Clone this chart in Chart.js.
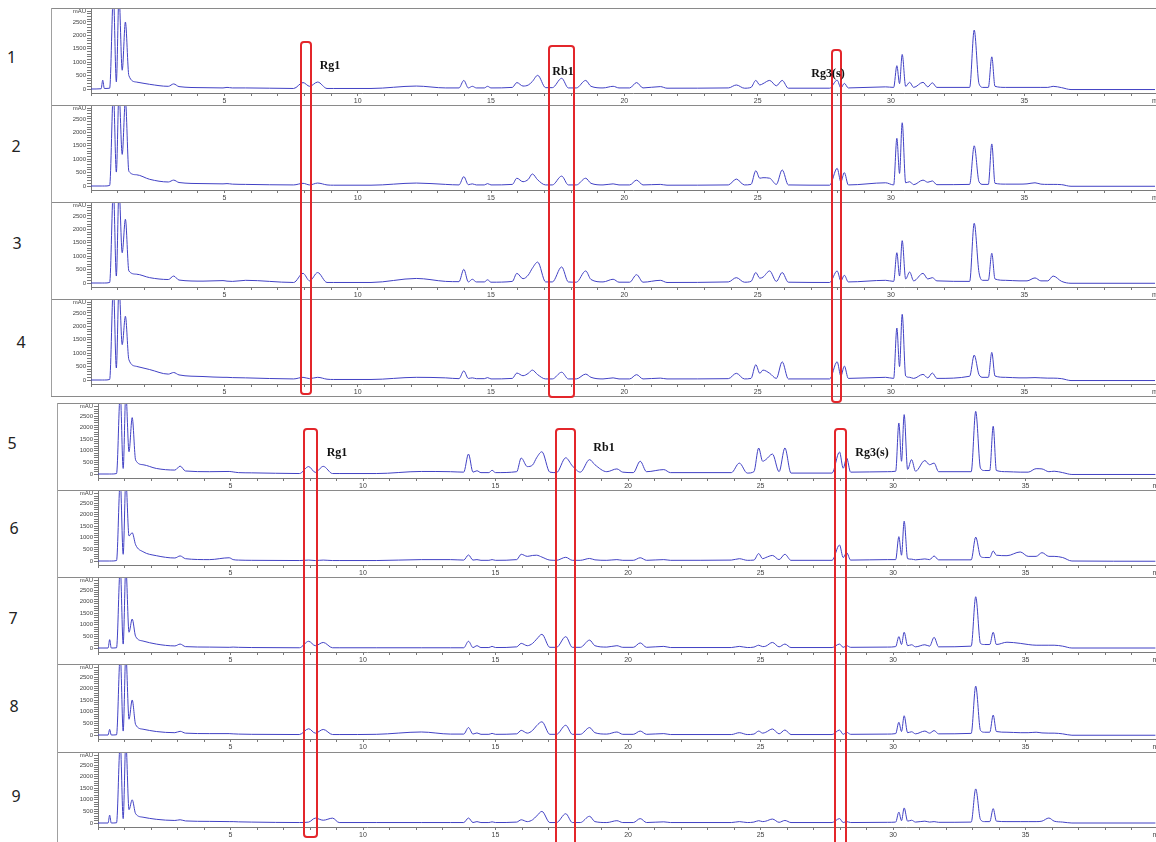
<!DOCTYPE html>
<html>
<head>
<meta charset="utf-8">
<script src="https://cdn.jsdelivr.net/npm/chart.js@4.4.0/dist/chart.umd.min.js"></script>
<style>
  body { margin: 0; background: #fff; width: 1156px; height: 842px; overflow: hidden; position: relative; }
  .wrap { position: absolute; }
  .hline { position: absolute; height: 1px; background: #8a8a8a; }
  .vline { position: absolute; width: 1px; background: #a0a0a0; }
  .num { position: absolute; font: 16px 'Noto Sans', sans-serif; color: #222; transform: translate(-50%, -50%); }
  .box { position: absolute; border: 2px solid #e3262b; border-radius: 4px; box-sizing: border-box; }
  .tag { position: absolute; font: bold 12px 'Liberation Serif', serif; color: #111; transform: translate(-50%, -50%); white-space: nowrap; }
</style>
</head>
<body>
<script>
// retention time (min)
const times = [
  0, 0.38, 0.44, 0.5, 0.7, 0.84, 0.95, 1.05, 1.17, 1.29,
  1.42, 1.7, 2.2, 2.9, 3.1, 3.3, 4.2, 4.95, 5.1, 5.3,
  5.8, 7.6, 7.95, 8.2, 8.5, 8.85, 9.1, 10.5, 12.2, 13.3,
  13.8, 13.98, 14.15, 14.3, 14.45, 14.75, 14.87, 15.0, 15.8, 15.97,
  16.2, 16.4, 16.55, 16.75, 17.05, 17.3, 17.65, 17.9, 18.2, 18.55,
  18.75, 19.2, 19.58, 19.8, 20.2, 20.46, 20.7, 21.35, 21.6, 23.9,
  24.2, 24.5, 24.75, 24.93, 25.08, 25.2, 25.45, 25.7, 25.92, 26.15,
  27.7, 27.98, 28.12, 28.25, 28.4, 29.8, 30.1, 30.22, 30.32, 30.42,
  30.55, 30.7, 30.85, 31.2, 31.38, 31.55, 31.72, 32.95, 33.12, 33.3,
  33.45, 33.65, 33.78, 33.9, 34.3, 34.8, 35.1, 35.4, 35.62, 35.88,
  36.08, 36.4, 36.75, 39.9
];

// absorbance (mAU) per sample, one value per retention time
const sample1 = [
  0, 10, 330, 20, 30, 3500, 270, 3500, 700, 2500,
  500, 260, 175, 100, 190, 90, 50, 40, 60, 40,
  40, 20, 240, 100, 260, 20, 20, 20, 110, 40,
  40, 320, 40, 100, 40, 40, 100, 40, 60, 240,
  110, 150, 280, 510, 50, 50, 400, 40, 40, 320,
  100, 40, 100, 40, 40, 240, 40, 90, 30, 40,
  150, 30, 60, 320, 150, 200, 320, 120, 320, 30,
  30, 330, 40, 210, 40, 80, 60, 870, 200, 1290,
  100, 250, 60, 250, 80, 230, 60, 60, 2200, 200,
  60, 60, 1200, 100, 60, 60, 60, 60, 60, 60,
  100, 50, -20, -20
];
const sample2 = [
  0, 0, 0, 0, 20, 3500, 520, 3500, 1180, 3200,
  550, 420, 250, 150, 220, 130, 90, 80, 90, 70,
  60, 40, 100, 40, 110, 40, 30, 30, 110, 60,
  40, 350, 50, 80, 40, 40, 90, 40, 60, 290,
  160, 250, 450, 230, 40, 40, 370, 40, 40, 290,
  100, 40, 80, 40, 40, 220, 40, 60, 30, 40,
  260, 40, 60, 570, 290, 310, 290, 60, 600, 40,
  30, 660, 160, 500, 40, 120, 40, 1780, 470, 2360,
  120, 160, 50, 220, 140, 190, 50, 60, 1500, 160,
  60, 60, 1570, 100, 70, 70, 80, 120, 70, 60,
  60, 50, -10, -10
];
const sample3 = [
  0, 0, 0, 0, 20, 3500, 260, 3500, 1130, 2380,
  450, 330, 200, 130, 260, 110, 70, 90, 70, 60,
  100, 20, 360, 80, 390, 20, 20, 20, 170, 60,
  50, 510, 40, 140, 40, 40, 120, 30, 60, 360,
  160, 300, 550, 780, 40, 40, 600, 40, 30, 450,
  130, 40, 140, 30, 30, 310, 30, 100, 20, 40,
  200, 30, 60, 390, 180, 220, 450, 60, 390, 30,
  20, 450, 80, 290, 40, 100, 60, 1130, 260, 1580,
  150, 410, 80, 360, 150, 200, 80, 60, 2230, 390,
  100, 100, 1110, 150, 100, 80, 80, 190, 80, 80,
  260, 60, -10, -10
];
const sample4 = [
  0, 0, 0, 0, 20, 3500, 450, 3500, 1320, 2380,
  760, 510, 390, 220, 280, 190, 130, 100, 100, 90,
  80, 40, 100, 50, 100, 30, 20, 20, 100, 80,
  50, 340, 60, 80, 50, 50, 90, 40, 60, 260,
  160, 250, 370, 200, 40, 40, 290, 40, 40, 220,
  100, 40, 80, 40, 40, 200, 40, 70, 40, 50,
  250, 40, 60, 570, 250, 370, 250, 60, 680, 40,
  40, 680, 150, 520, 60, 100, 60, 1940, 500, 2450,
  150, 100, 60, 210, 80, 260, 60, 140, 930, 200,
  100, 100, 1030, 150, 100, 80, 80, 90, 80, 70,
  70, 50, -20, -20
];
const sample5 = [
  0, 0, 0, 0, 20, 3500, 240, 3500, 960, 2430,
  600, 400, 240, 170, 340, 130, 100, 110, 90, 60,
  50, 20, 320, 70, 330, 20, 20, 20, 110, 100,
  80, 860, 80, 140, 60, 60, 160, 60, 100, 690,
  320, 390, 700, 960, 80, 60, 700, 350, 80, 620,
  400, 100, 220, 80, 60, 550, 100, 190, 60, 60,
  470, 40, 100, 1120, 550, 620, 860, 100, 1120, 40,
  40, 950, 250, 690, 80, 100, 120, 2200, 550, 2560,
  200, 620, 120, 580, 400, 470, 100, 100, 2700, 250,
  150, 150, 2060, 150, 100, 80, 80, 230, 220, 100,
  120, 60, -20, -20
];
const sample6 = [
  0, 0, 0, 0, 20, 3500, 290, 3500, 1080, 1220,
  700, 400, 230, 130, 220, 100, 60, 140, 60, 40,
  30, 20, 40, 20, 40, 20, 20, 20, 60, 60,
  40, 260, 40, 60, 30, 30, 60, 30, 60, 290,
  200, 240, 250, 170, 40, 30, 160, 30, 30, 110,
  50, 30, 60, 30, 30, 140, 30, 60, 30, 40,
  100, 30, 40, 320, 100, 150, 240, 60, 290, 30,
  30, 690, 150, 360, 40, 60, 60, 1050, 250, 1720,
  100, 80, 50, 90, 60, 215, 50, 50, 1030, 200,
  150, 150, 430, 250, 230, 390, 200, 200, 360, 200,
  200, 150, 0, -10
];
const sample7 = [
  0, 0, 360, 0, 10, 3500, 170, 3500, 680, 1250,
  500, 300, 170, 90, 170, 60, 40, 30, 40, 30,
  20, 10, 290, 100, 240, 10, 10, 10, 10, 10,
  10, 290, 20, 100, 20, 20, 70, 20, 50, 200,
  100, 200, 380, 590, 30, 30, 490, 30, 30, 340,
  100, 40, 100, 30, 30, 220, 30, 70, 20, 20,
  70, 20, 40, 120, 60, 80, 240, 50, 170, 20,
  20, 170, 30, 100, 30, 40, 60, 490, 150, 680,
  100, 140, 50, 140, 80, 460, 50, 80, 2210, 200,
  150, 150, 680, 150, 250, 200, 150, 120, 120, 120,
  120, 80, 0, 0
];
const sample8 = [
  0, 0, 240, 0, 10, 3500, 170, 3500, 680, 1510,
  450, 250, 150, 100, 160, 80, 60, 60, 50, 40,
  30, 20, 270, 80, 240, 20, 20, 30, 130, 40,
  40, 320, 40, 90, 30, 30, 70, 30, 50, 200,
  80, 200, 400, 570, 30, 30, 420, 30, 30, 320,
  100, 40, 130, 30, 30, 170, 30, 60, 20, 20,
  100, 20, 40, 170, 80, 120, 260, 50, 215, 20,
  20, 215, 30, 115, 30, 40, 60, 550, 150, 830,
  100, 140, 50, 170, 80, 190, 50, 70, 2110, 200,
  120, 120, 860, 150, 120, 100, 100, 120, 90, 80,
  80, 50, -10, -10
];
const sample9 = [
  0, 0, 340, 0, 10, 3500, 190, 3500, 575, 1000,
  400, 250, 160, 110, 140, 90, 70, 60, 60, 50,
  40, 20, 40, 210, 120, 210, 20, 20, 20, 20,
  20, 215, 20, 60, 20, 20, 50, 20, 40, 140,
  60, 140, 300, 500, 20, 20, 400, 20, 20, 290,
  60, 20, 100, 20, 20, 190, 20, 50, 20, 20,
  60, 20, 40, 100, 60, 80, 170, 30, 110, 20,
  20, 190, 20, 60, 20, 30, 40, 470, 100, 650,
  80, 120, 40, 80, 40, 60, 30, 40, 1470, 150,
  60, 60, 620, 80, 60, 60, 60, 60, 80, 215,
  80, 40, 0, 0
];

const sampleNames = ['1', '2', '3', '4', '5', '6', '7', '8', '9'];
const samples = [sample1, sample2, sample3, sample4, sample5, sample6, sample7, sample8, sample9];
const mauLabels = [0, 500, 1000, 1500, 2000, 2500];
const minLabels = [5, 10, 15, 20, 25, 30, 35];

// two blocks of stacked chromatograms
const groups = [
  { left: 51, tops: [8, 105, 202, 299], h: 97, yw: 40, ymin: -149, ymax: 2985, xmax: 40.65, bottom: 397 },
  { left: 57, tops: [403, 490, 577, 664, 752], h: 87, yw: 41, ymin: -172, ymax: 3018, xmax: 40.64, bottom: 842 }
];
const numPos = [[11.5, 57], [16, 146], [17, 243], [21, 342], [12, 443], [14, 528], [13, 618], [14, 706], [16, 796]];

function el(cls, css, text) {
  const d = document.createElement('div');
  d.className = cls;
  Object.assign(d.style, css);
  if (text) d.textContent = text;
  document.body.appendChild(d);
  return d;
}

const tickFont = { family: 'Liberation Sans', size: 7 };
const axisGray = '#7a7a7a';

function makeChart(canvas, vals, g) {
  return new Chart(canvas, {
    type: 'line',
    data: {
      datasets: [{
        data: times.map((t, i) => ({ x: t, y: vals[i] })),
        borderColor: '#4141c4',
        borderWidth: 1,
        pointRadius: 0,
        cubicInterpolationMode: 'monotone',
        fill: false
      }]
    },
    options: {
      responsive: false,
      animation: false,
      devicePixelRatio: 1,
      layout: { padding: { top: 1, left: 0, right: 0, bottom: 0 }, autoPadding: false },
      plugins: { legend: { display: false }, tooltip: { enabled: false } },
      scales: {
        x: {
          type: 'linear', min: 0, max: g.xmax,
          afterBuildTicks: s => { s.ticks = Array.from({ length: 41 }, (_, i) => ({ value: i })); },
          afterFit: s => { s.height = 12; s.paddingLeft = 0; s.paddingRight = 0; },
          ticks: {
            autoSkip: false, maxRotation: 0, minRotation: 0, padding: 1,
            font: tickFont, color: '#444',
            callback: v => v === 40 ? 'min' : (minLabels.includes(v) ? String(v) : '')
          },
          grid: { drawOnChartArea: false, tickLength: 3, color: axisGray },
          border: { color: axisGray }
        },
        y: {
          min: g.ymin, max: g.ymax,
          afterBuildTicks: s => { s.ticks = Array.from({ length: 30 }, (_, i) => ({ value: i * 100 })); },
          afterFit: s => { s.width = g.yw; s.paddingTop = 0; s.paddingBottom = 0; },
          ticks: {
            autoSkip: false, padding: 1,
            font: { family: 'Liberation Sans', size: 6 }, color: '#444',
            callback: v => v === 2900 ? 'mAU' : (mauLabels.includes(v) ? String(v) : '')
          },
          grid: { drawOnChartArea: false, tickLength: 4, color: axisGray },
          border: { color: axisGray }
        }
      }
    }
  });
}

const charts = [];
let k = 0;
groups.forEach(g => {
  const w = 1175 - g.left;
  g.tops.forEach(top => {
    el('hline', { left: g.left + 'px', top: top + 'px', width: (1156 - g.left) + 'px' });
    const wrap = el('wrap', { left: g.left + 'px', top: top + 'px', width: w + 'px', height: g.h + 'px' });
    const c = document.createElement('canvas');
    c.width = w; c.height = g.h;
    wrap.appendChild(c);
    const ch = makeChart(c, samples[k], g);
    ch.pageLeft = g.left;
    charts.push(ch);
    el('num', { left: numPos[k][0] + 'px', top: numPos[k][1] + 'px' }, sampleNames[k]);
    k++;
  });
  el('vline', { left: g.left + 'px', top: g.tops[0] + 'px', height: (g.bottom - g.tops[0]) + 'px' });
});
el('hline', { left: '51px', top: '396px', width: '1105px' });

// highlighted compound windows (retention-time ranges)
const windows = [
  { chart: 0, t0: 7.84, t1: 8.30, y0: 41, y1: 395 },
  { chart: 0, t0: 17.15, t1: 18.16, y0: 45, y1: 398 },
  { chart: 0, t0: 27.76, t1: 28.17, y0: 49, y1: 403 },
  { chart: 4, t0: 7.72, t1: 8.29, y0: 428, y1: 838 },
  { chart: 4, t0: 17.23, t1: 18.03, y0: 428, y1: 850 },
  { chart: 4, t0: 27.79, t1: 28.28, y0: 428, y1: 850 }
];
windows.forEach(b => {
  const ch = charts[b.chart];
  const x0 = ch.pageLeft + ch.scales.x.getPixelForValue(b.t0);
  const x1 = ch.pageLeft + ch.scales.x.getPixelForValue(b.t1);
  el('box', { left: x0 + 'px', top: b.y0 + 'px', width: (x1 - x0) + 'px', height: (b.y1 - b.y0) + 'px' });
});

const tags = [
  ['Rg1', 330, 65], ['Rb1', 563, 71], ['Rg3(s)', 828, 73],
  ['Rg1', 337, 452], ['Rb1', 604, 447], ['Rg3(s)', 872, 452]
];
tags.forEach(t => el('tag', { left: t[1] + 'px', top: t[2] + 'px' }, t[0]));
</script>
</body>
</html>
